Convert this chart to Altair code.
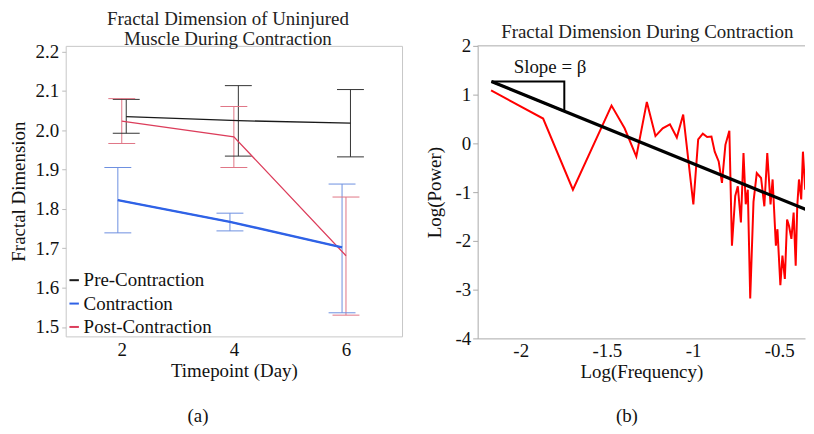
import altair as alt
import pandas as pd

FONT = "Liberation Serif"
FS = 19

# ---------------- panel (a) data ----------------
days = [2, 4, 6]
series_names = ["Pre-Contraction", "Contraction", "Post-Contraction"]
pre_mean = [2.034, 2.024, 2.018]
pre_low = [1.992, 1.934, 1.932]
pre_high = [2.078, 2.113, 2.103]
con_mean = [1.822, 1.767, 1.702]
con_low = [1.739, 1.744, 1.536]
con_high = [1.905, 1.789, 1.863]
post_mean = [2.023, 1.983, 1.681]
post_low = [1.966, 1.905, 1.530]
post_high = [2.080, 2.060, 1.830]

# ---------------- panel (b) data ----------------
spec_x = [-2.172, -1.870, -1.697, -1.473, -1.397, -1.329, -1.268, -1.218, -1.176, -1.134,
          -1.094, -1.057, -0.998, -0.970, -0.943, -0.918, -0.893, -0.874, -0.851, -0.832,
          -0.812, -0.789, -0.774, -0.755, -0.740, -0.722, -0.707, -0.694, -0.682, -0.668,
          -0.649, -0.630, -0.605, -0.586, -0.569, -0.550, -0.538, -0.519, -0.510, -0.493,
          -0.481, -0.467, -0.454, -0.443, -0.429, -0.416, -0.404, -0.395, -0.385, -0.372,
          -0.362, -0.349, -0.337, -0.324, -0.314]
spec_y = [1.085, 0.51, -0.95, 0.775, 0.31, -0.27, 0.85, 0.15, 0.31, 0.39,
          0.12, 0.59, -1.25, 0.08, 0.20, 0.13, 0.14, -0.17, -0.37, -0.81,
          -0.03, 0.26, -2.10, -1.08, -0.88, -1.62, -0.20, -1.25, -0.95, -3.18,
          -1.20, -0.61, -0.71, -1.29, -0.20, -1.25, -0.74, -2.10, -1.76, -2.91,
          -2.30, -2.78, -1.56, -1.69, -1.96, -1.42, -2.51, -1.29, -0.74, -1.15,
          -0.17, -0.95, -0.47, -0.61, -0.07]
fit_x = [-2.17, -0.30]
fit_y = [1.27, -1.42]
tri_x = [-2.17, -1.747, -1.747, -2.17]
tri_y = [1.27, 1.27, 0.66, 1.27]
slope_label = ["Slope = β"]
slope_x = [-1.83]
slope_y = [1.57]

# ---------------- styles ----------------
line_colors = ["#1a1a1a", "#2f62e6", "#dc3d5b"]
err_colors = ["#333333", "#6d8fe0", "#e07585"]
dodge = {"Pre-Contraction": 0.08, "Contraction": -0.07, "Post-Contraction": 0.0}
cap_half = 0.24

rows = []
for name, m, lo, hi in [
    ("Pre-Contraction", pre_mean, pre_low, pre_high),
    ("Contraction", con_mean, con_low, con_high),
    ("Post-Contraction", post_mean, post_low, post_high),
]:
    for d, mv, lv, hv in zip(days, m, lo, hi):
        xd = d + dodge[name]
        rows.append({"series": name, "day": d, "xd": xd, "mean": mv, "low": lv,
                     "high": hv, "cl": xd - cap_half, "cr": xd + cap_half})
dfa = pd.DataFrame(rows)

xa = alt.X("xd:Q", scale=alt.Scale(domain=[1, 7], nice=False, zero=False),
           axis=alt.Axis(values=days, format="d", title="Timepoint (Day)", domain=False,
                         ticks=False, grid=False, labelPadding=4, titlePadding=2,
                         labelFont=FONT, titleFont=FONT))
ya = alt.Y("mean:Q", scale=alt.Scale(domain=[1.476, 2.214], nice=False, zero=False),
           axis=alt.Axis(values=[1.5, 1.6, 1.7, 1.8, 1.9, 2.0, 2.1, 2.2], format=".1f",
                         title="Fractal Dimension", domain=False, ticks=True, tickSize=4,
                         tickColor="#bbbbbb", grid=False, labelPadding=3, titlePadding=7,
                         labelFont=FONT, titleFont=FONT))

base_a = alt.Chart(dfa)
lines_a = base_a.mark_line(strokeWidth=1.3).encode(
    x=xa, y=ya,
    color=alt.Color("series:N", scale=alt.Scale(domain=series_names, range=line_colors),
                    legend=alt.Legend(title=None, orient="none", legendX=-1, legendY=226,
                                      symbolType="stroke", symbolSize=90,
                                      symbolStrokeWidth=2, labelFontSize=FS, labelFont=FONT,
                                      labelColor="#111111", labelOffset=0, rowPadding=3.5,
                                      padding=0)),
)
blue_line = base_a.transform_filter(alt.datum.series == "Contraction").mark_line(
    strokeWidth=2.4, color=line_colors[1]).encode(x="xd:Q", y="mean:Q")
err_color = alt.Color("series:N", scale=alt.Scale(domain=series_names, range=err_colors),
                      legend=None)
err_v = base_a.mark_rule(strokeWidth=1).encode(x="xd:Q", y="low:Q", y2="high:Q", color=err_color)
cap_lo = base_a.mark_rule(strokeWidth=1).encode(x="cl:Q", x2="cr:Q", y="low:Q", color=err_color)
cap_hi = base_a.mark_rule(strokeWidth=1).encode(x="cl:Q", x2="cr:Q", y="high:Q", color=err_color)
cap_a = alt.Chart(pd.DataFrame({"t": ["(a)"]})).mark_text(
    font=FONT, fontSize=FS, color="#111111").encode(
    text="t:N", x=alt.value(133), y=alt.value(372))

panel_a = alt.layer(err_v, cap_lo, cap_hi, lines_a, blue_line, cap_a).resolve_scale(
    color="independent").properties(
    width=338, height=292,
    title=alt.TitleParams(["Fractal Dimension of Uninjured", "Muscle During Contraction"],
                          font=FONT, fontSize=FS, fontWeight="normal", color="#222222",
                          lineHeight=21, offset=-7, anchor="middle", dx=-6),
    view=alt.ViewBackground(stroke="#c8c8c8", strokeWidth=1),
)

# ---------------- panel (b) ----------------
dfs = pd.DataFrame({"f": spec_x, "p": spec_y})
dff = pd.DataFrame({"f": fit_x, "p": fit_y})
dft = pd.DataFrame({"f": tri_x, "p": tri_y, "o": list(range(len(tri_x)))})
dfl = pd.DataFrame({"f": slope_x, "p": slope_y, "t": slope_label})

xscale_b = alt.Scale(domain=[-2.25, -0.35], nice=False, zero=False)
yscale_b = alt.Scale(domain=[-4, 2], nice=False, zero=False)
xb = alt.X("f:Q", scale=xscale_b,
           axis=alt.Axis(values=[-2, -1.5, -1, -0.5], labelExpr="'' + datum.value",
                         title="Log(Frequency)", domainColor="#aaaaaa", ticks=False,
                         grid=False, labelPadding=3, titlePadding=2,
                         labelFont=FONT, titleFont=FONT))
yb = alt.Y("p:Q", scale=yscale_b,
           axis=alt.Axis(values=[-4, -3, -2, -1, 0, 1, 2], labelExpr="'' + datum.value",
                         title="Log(Power)", domainColor="#aaaaaa", tickColor="#aaaaaa",
                         tickSize=5, grid=False, labelPadding=2, titlePadding=10,
                         labelFont=FONT, titleFont=FONT))

top_frame = alt.Chart(pd.DataFrame({"k": [0]})).mark_rule(color="#aaaaaa", strokeWidth=1).encode(
    x=alt.value(0), x2=alt.value(329), y=alt.value(0))
spec_line = alt.Chart(dfs).mark_line(color="#ff0000", strokeWidth=2, clip=True).encode(x=xb, y=yb)
fit_line = alt.Chart(dff).mark_line(color="#000000", strokeWidth=3.2, clip=True).encode(
    x="f:Q", y="p:Q")
tri = alt.Chart(dft).mark_line(color="#000000", strokeWidth=2).encode(
    x="f:Q", y="p:Q", order="o:Q")
slope_txt = alt.Chart(dfl).mark_text(font=FONT, fontSize=FS, color="#111111").encode(
    x="f:Q", y="p:Q", text="t:N")
cap_b = alt.Chart(pd.DataFrame({"t": ["(b)"]})).mark_text(
    font=FONT, fontSize=FS, color="#111111").encode(
    text="t:N", x=alt.value(150), y=alt.value(372))

panel_b = alt.layer(top_frame, spec_line, fit_line, tri, slope_txt, cap_b).properties(
    width=329, height=294,
    title=alt.TitleParams("Fractal Dimension During Contraction", font=FONT, fontSize=FS,
                          fontWeight="normal", color="#222222", offset=-5, anchor="middle",
                          dx=6),
)

chart = alt.hconcat(panel_a, panel_b, spacing=23).properties(
    padding={"left": 0, "top": 0, "right": 0, "bottom": 0},
    background="white",
).configure(font=FONT).configure_view(strokeWidth=0).configure_axis(
    labelFont=FONT, labelFontSize=FS, labelColor="#111111",
    titleFont=FONT, titleFontSize=FS, titleFontWeight="normal", titleColor="#111111",
).configure_legend(labelFont=FONT)

chart.save("out.html", embed_options={"renderer": "svg", "actions": False})
